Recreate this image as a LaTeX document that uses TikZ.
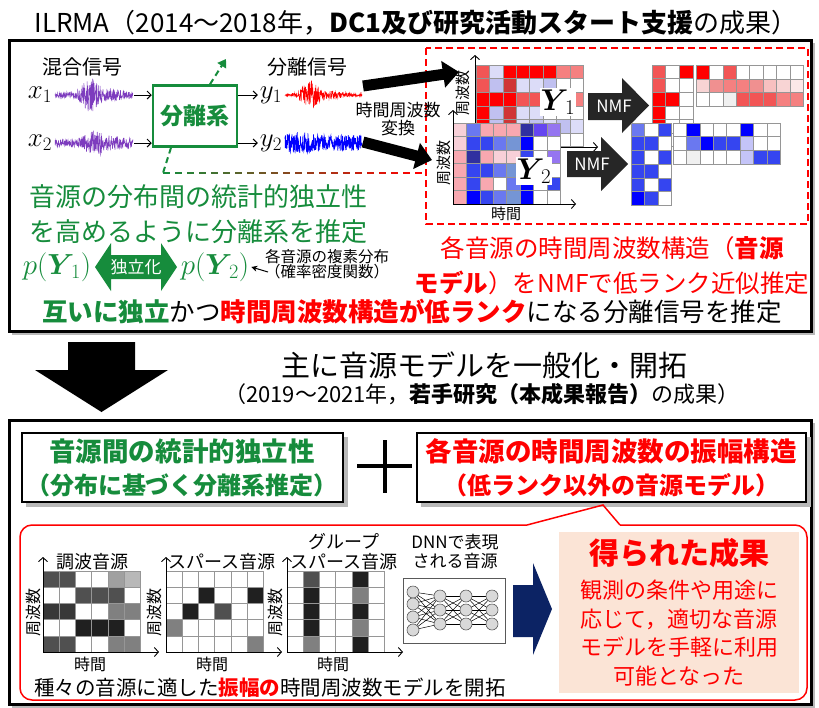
\RequirePackage{fix-cm}
\documentclass[tikz,border=0pt]{standalone}
\usepackage{amsmath}
\usepackage[no-math]{fontspec}
\setmainfont{Noto Sans CJK JP}
\usetikzlibrary{arrows.meta,calc}
\newcommand\fsz[1]{\fontsize{#1}{#1}\selectfont}
\definecolor{dg}{RGB}{22,140,60}
\definecolor{rd}{RGB}{255,0,0}
\definecolor{purp}{RGB}{125,60,190}
\definecolor{navy}{RGB}{12,35,100}
\definecolor{peach}{RGB}{251,228,214}
\definecolor{nmfc}{RGB}{38,38,38}
\definecolor{gridc}{RGB}{150,150,150}
% cell colours
\definecolor{R}{HTML}{FF0000}
\definecolor{S}{HTML}{F25555}
\definecolor{P}{HTML}{F58080}
\definecolor{Q}{HTML}{F8A8B0}
\definecolor{K}{HTML}{F8D0D8}
\definecolor{D}{HTML}{D03535}
\definecolor{L}{HTML}{DCDCF8}
\definecolor{V}{HTML}{C0C0F0}
\definecolor{B}{HTML}{0000FF}
\definecolor{M}{HTML}{3545F0}
\definecolor{N}{HTML}{6A78F0}
\definecolor{T}{HTML}{7595D5}
\definecolor{X}{HTML}{3030A0}
\definecolor{U}{HTML}{6545F0}
\definecolor{Z}{HTML}{9575F0}
\definecolor{W}{HTML}{FFFFFF}
\definecolor{E}{HTML}{F0F0F0}
\definecolor{C}{HTML}{C4C4F8}
\definecolor{H}{HTML}{F8D4D4}
\definecolor{J}{HTML}{F09090}
\definecolor{Y}{HTML}{F8C0C0}
\definecolor{I}{HTML}{FCE8E8}
\definecolor{ga}{HTML}{202020}
\definecolor{gb}{HTML}{383838}
\definecolor{gc}{HTML}{505050}
\definecolor{gd}{HTML}{808080}
\definecolor{ge}{HTML}{A0A0A0}
\definecolor{gf}{HTML}{B8B8B8}
\newcommand\mygrid[5]{%
  \foreach \rr [count=\ri from 0] in {#5} {
    \foreach \cc [count=\ci from 0] in \rr {
      \filldraw[fill=\cc, draw=gridc, line width=0.6pt] ({#1+\ci*#3},{#2+\ri*#4}) rectangle ++(#3,#4);
    }
  }%
}
\begin{document}
\begin{tikzpicture}[x=1pt,y=-1pt,
  txt/.style={inner sep=0pt, align=center},
  axis/.style={line width=0.9pt, -{Straight Barb[length=4pt,width=9pt]}},
  thinarrow/.style={line width=1pt, -{Straight Barb[length=4pt,width=8pt]}},
  bigarrow/.style={line width=11pt, -{Triangle[length=16pt,width=26pt]}},
  shadowbox/.style={fill=gray!55},
  nn/.style={circle, fill=gray!30, draw=gray!70!black, line width=0.6pt, minimum size=12pt, inner sep=0pt}]
\useasboundingbox (0,0) rectangle (819,707);

% ---------- title ----------
\node[txt] (title) at (416,23) {\fsz{26}ILRMA（2014～2018年，\textbf{DC1及び研究活動スタート支援}の成果）};

% ---------- top frame ----------
\draw[gray!55, line width=2pt] (12,334) -- (814,334) -- (814,43);
\draw[line width=3pt] (9,40) rectangle (811,331);

% labels
\node[txt] (mixlab) at (82,67) {\fsz{20}混合信号};
\node[txt] (seplab) at (307,67) {\fsz{20}分離信号};
\node[txt] (x1) at (40,95) {\fsz{27}$x_1$};
\node[txt] (x2) at (40,143) {\fsz{27}$x_2$};
\node[txt] (y1) at (271,95) {\fsz{27}$y_1$};
\node[txt] (y2) at (271,143) {\fsz{27}$y_2$};

% waveforms
\pgfmathsetseed{7}
\draw[purp, line width=0.5pt] plot[domain=55:133, samples=300] (\x, {95+(2.5+14*exp(-((\x-90)^2)/90)+4*exp(-((\x-112)^2)/250))*rand});
\draw[purp, line width=0.5pt] plot[domain=55:133, samples=300] (\x, {143+(3.5+9*exp(-((\x-95)^2)/150)+3*exp(-((\x-120)^2)/200))*rand});
\draw[rd, line width=0.5pt] plot[domain=285:362, samples=300] (\x, {95+(1.2+13*exp(-((\x-310)^2)/90)+3*exp(-((\x-330)^2)/200))*rand});
\draw[B, line width=0.6pt] plot[domain=285:362, samples=320] (\x, {143+(8+3*exp(-((\x-300)^2)/150))*rand});

% separation system
\node[draw=dg, line width=2.5pt, minimum width=84pt, minimum height=61pt, inner sep=0pt, text=dg, font=\bfseries] (sep) at (195,116) {\fsz{23}分離系};
\coordinate (x1e) at (134,95);
\coordinate (x2e) at (134,143);
\draw[thinarrow] (x1e) -- (x1e -| sep.west);
\draw[thinarrow] (x2e) -- (x2e -| sep.west);
\draw[thinarrow] (sep.east |- y1) -- ([xshift=-2pt]y1.west);
\draw[thinarrow] (sep.east |- y2) -- ([xshift=-2pt]y2.west);

% dashed feedback
\coordinate (up1) at (226,59);
\draw[dg, line width=2pt, dash pattern=on 6pt off 4pt, -{Triangle[length=8pt,width=10pt]}] ([xshift=15pt]sep.north) -- (up1);
\coordinate (dcorner) at (163,173);
\draw[dg, line width=2pt, dash pattern=on 6pt off 4pt] ([xshift=-24pt]sep.south) -- (dcorner);
\foreach \k in {0,...,21} {
  \pgfmathsetmacro\xa{163+\k*12}
  \pgfmathsetmacro\pc{\k/21*100}
  \draw[color=rd!\pc!dg, line width=2pt] (\xa,173) -- ++(7,0);
}

% red dashed region
\draw[rd, line width=2.5pt, dash pattern=on 7pt off 4pt] (426,48) rectangle (808,224);

% thick black arrows
\coordinate (ta1s) at (363,86);
\coordinate (ta1e) at (459,72);
\coordinate (ta2s) at (363,142);
\coordinate (ta2e) at (432,160);
\draw[bigarrow] (ta1s) -- (ta1e);
\draw[bigarrow] (ta2s) -- (ta2e);
\node[txt, font={\fontsize{17}{18}\selectfont}] (tflab) at (398,119) {時間周波数\\変換};

% Y1 matrix
\mygrid{476}{65}{13.4}{13.6}{{S,L,R,R,R,R,P,P},{S,V,D,L,L,V,W,W},{R,R,R,S,S,W,W,P},{R,V,D,L,L,W,W,W},{R,V,D,L,V,L,V,L},{R,V,D,L,L,W,W,W}}
\draw[axis] (475,147) -- (475,55);
\draw[axis] (475,147) -- (598,147);
\node[txt, rotate=90] (fq1) at (463,93) {\fsz{15}周波数};
\node[fill=white, inner sep=1pt] (Y1) at (558,102) {\fsz{30}$\boldsymbol{Y}_{\!1}$};

% Y2 matrix
\mygrid{453}{123}{13.4}{13.5}{{K,N,Q,Q,Q,X,U,Z},{K,M,M,N,T,B,W,W},{Q,X,Q,K,K,M,W,Z},{Q,M,M,N,T,B,W,W},{Q,M,Q,W,N,B,W,M},{Q,B,M,N,T,B,W,W}}
\draw[axis] (453,204) -- (453,110);
\draw[axis] (453,204) -- (576,204);
\node[txt, rotate=90] (fq2) at (444,163) {\fsz{15}周波数};
\node[txt] (tm2) at (506,214) {\fsz{15}時間};
\node[fill=white, inner sep=1pt] (Y2) at (534,171) {\fsz{30}$\boldsymbol{Y}_{\!2}$};

% NMF arrows
\fill[nmfc] (588,93) -- (622,93) -- (622,78) -- (649,105.5) -- (622,133) -- (622,120) -- (588,120) -- cycle;
\node[txt, text=white] (nmf1) at (614,106) {\fsz{17}NMF};
\fill[nmfc] (567,151) -- (601,151) -- (601,137) -- (628,164) -- (601,191) -- (601,177) -- (567,177) -- cycle;
\node[txt, text=white] (nmf2) at (592,164) {\fsz{17}NMF};

% factor matrices
\mygrid{652}{65}{13.6}{13.6}{{S,W,R},{S,W,W},{R,R,W},{R,W,W},{R,W,W},{R,W,W}}
\mygrid{696}{65}{13.4}{13.8}{{R,W,S,W,W,W,W,W},{H,J,P,P,J,Y,H,I},{W,W,E,S,S,S,P,P}}
\mygrid{631}{123}{13.4}{13.7}{{N,W,M},{M,M,W},{M,W,M},{M,M,W},{M,W,M},{B,M,W}}
\mygrid{673}{123}{13.4}{13.7}{{W,B,W,W,W,B,W,W},{W,N,B,M,M,C,W,W},{W,E,W,W,W,C,M,M}}

% green statements
\node[txt, text=dg, font={\fontsize{26}{35}\selectfont}] (gtext) at (198,214.5) {音源の分布間の統計的独立性\\を高めるように分離系を推定};
\node[txt, text=dg] (pY1) at (57,267) {\fsz{29}$p(\boldsymbol{Y}_{\!1})$};
\node[txt, text=dg] (pY2) at (215,267) {\fsz{29}$p(\boldsymbol{Y}_{\!2})$};
\fill[dg] (95,267) -- (111,243) -- (111,255) -- (161,255) -- (161,243) -- (177,267) -- (161,291) -- (161,279) -- (111,279) -- (111,291) -- cycle;
\node[txt, text=white] (indep) at (136,267) {\fsz{17}独立化};
\node[txt, font={\fontsize{15.5}{15}\selectfont}] (cplx) at (327,264) {各音源の複素分布\\（確率密度関数）};
\coordinate (pa) at (268,272);
\draw[line width=1pt, -{Stealth[length=6pt,width=6pt]}] (pa) -- ([xshift=2pt]pY2.east);

% red statement
\node[txt, text=rd, font={\fontsize{24.5}{35}\selectfont}] (rtext) at (612,265.5) {各音源の時間周波数構造（\textbf{音源}\\\textbf{モデル}）をNMFで低ランク近似推定};

% conclusion
\node[txt] (concl) at (412,312) {\fsz{25.5}\textcolor{dg}{\textbf{互いに独立}}かつ\textcolor{rd}{\textbf{時間周波数構造が低ランク}}になる分離信号を推定};

% ---------- middle ----------
\fill (68,342) -- (135,342) -- (135,370) -- (168,370) -- (101.5,412) -- (35,370) -- (68,370) -- cycle;
\node[txt] (gen) at (484,365) {\fsz{29}主に音源モデルを一般化・開拓};
\node[txt] (gen2) at (482,394) {\fsz{22}（2019～2021年，\textbf{若手研究（本成果報告）}の成果）};

% ---------- lower frame ----------
\draw[gray!55, line width=2pt] (12,707) -- (814,707) -- (814,423);
\draw[line width=3pt] (9,420) rectangle (811,704);

% green and red boxes
\fill[shadowbox] (26,437) rectangle (348,507);
\fill[shadowbox] (421,437) rectangle (811,507);
\draw[fill=white, line width=1.5pt] (22,433) rectangle (343,502);
\draw[fill=white, line width=1.5pt] (417,433) rectangle (806,502);
\node[txt, text=dg, font={\bfseries\fontsize{25}{33}\selectfont}] (gb1) at (182,468) {\fontsize{26.5}{33}\selectfont 音源間の統計的独立性\\\fontsize{24}{33}\selectfont（分布に基づく分離系推定）};
\node[txt, text=rd, font={\bfseries\fontsize{25}{33}\selectfont}] (rb1) at (611,468) {\fontsize{26.5}{33}\selectfont 各音源の時間周波数の振幅構造\\\fontsize{24}{33}\selectfont（低ランク以外の音源モデル）};
\draw[line width=4pt] (357,466) -- (412,466);
\draw[line width=4pt] (385,440) -- (385,493);

% callout
\draw[rd, line width=1.5pt, rounded corners=12pt] (620,525) -- (807,525) -- (807,700) -- (20,700) -- (20,525) -- (527,525);
\draw[rd, line width=1.5pt] (527,525) -- (603,505) -- (620,525);

% matrices lower
\mygrid{43}{571}{16.2}{16.2}{{gc,gc,W,W,ge,gf},{W,W,gc,gc,gc,W},{gb,gb,W,W,gd,gd},{W,W,ga,ga,ga,W},{gc,gc,W,W,gd,gd}}
\mygrid{166}{571}{16.2}{16.2}{{W,W,W,W,W,W},{W,W,ga,W,W,ga},{W,ga,W,gc,W,W},{gd,W,W,W,W,W},{W,W,W,W,W,gd}}
\mygrid{287}{571}{16.2}{16.2}{{W,gc,W,W,ga,W},{W,ga,W,W,gd,W},{W,ga,W,W,ga,W},{W,ga,W,W,gd,W},{W,gd,W,W,ga,W}}
\foreach \mx in {43,166,287} {
  \draw[axis] (\mx,652) -- (\mx,557);
  \draw[axis] (\mx,652) -- ({\mx+116},652);
}
\node[txt] (m1lab) at (92,562) {\fsz{18}調波音源};
\node[txt] (m2lab) at (222,562) {\fsz{18}スパース音源};
\node[txt, font={\fontsize{18}{20}\selectfont}] (m3lab) at (344,552) {グループ\\スパース音源};
\node[txt, rotate=90] (m1f) at (33,612) {\fsz{16}周波数};
\node[txt, rotate=90] (m2f) at (154,612) {\fsz{16}周波数};
\node[txt, rotate=90] (m3f) at (275,612) {\fsz{16}周波数};
\node[txt] (m1t) at (90,664) {\fsz{16}時間};
\node[txt] (m2t) at (212,664) {\fsz{16}時間};
\node[txt] (m3t) at (333,664) {\fsz{16}時間};

% DNN
\node[txt, font={\fontsize{17}{19}\selectfont}] (dnnlab) at (455,552) {DNNで表現\\される音源};
\draw[gray!70!black, line width=1pt] (403,578) rectangle (505,643);
\foreach \i/\yy in {1/592,2/604,3/617,4/630} \coordinate (a\i) at (413,\yy);
\foreach \i/\yy in {1/596,2/610,3/624} {
  \coordinate (b\i) at (440,\yy);
  \coordinate (c\i) at (466,\yy);
  \coordinate (d\i) at (492,\yy);
}
\foreach \i in {1,...,4} \foreach \j in {1,2,3} \draw[line width=0.5pt] (a\i) -- (b\j);
\foreach \i in {1,2,3} \foreach \j in {1,2,3} {\draw[line width=0.5pt] (b\i) -- (c\j); \draw[line width=0.5pt] (c\i) -- (d\j);}
\foreach \i in {1,...,4} \node[nn] at (a\i) {};
\foreach \i in {1,2,3} {\node[nn] at (b\i) {}; \node[nn] at (c\i) {}; \node[nn] at (d\i) {};}

% navy arrow
\fill[navy] (513,585) -- (533,585) -- (533,563) -- (552,609) -- (533,655) -- (533,637) -- (513,637) -- cycle;

% result box
\fill[peach] (559,532) rectangle (799,693);
\node[txt, text=rd] (restitle) at (679,553) {\fsz{30}\textbf{得られた成果}};
\node[txt, text=rd, font={\fontsize{22}{28.5}\selectfont}] (resbody) at (679,633) {観測の条件や用途に\\応じて，適切な音源\\モデルを手軽に利用\\可能となった};

% bottom text
\node[txt] (btext) at (270,688) {\fsz{20.5}種々の音源に適した\textcolor{rd}{\textbf{振幅の}}時間周波数モデルを開拓};
\end{tikzpicture}
\end{document}
